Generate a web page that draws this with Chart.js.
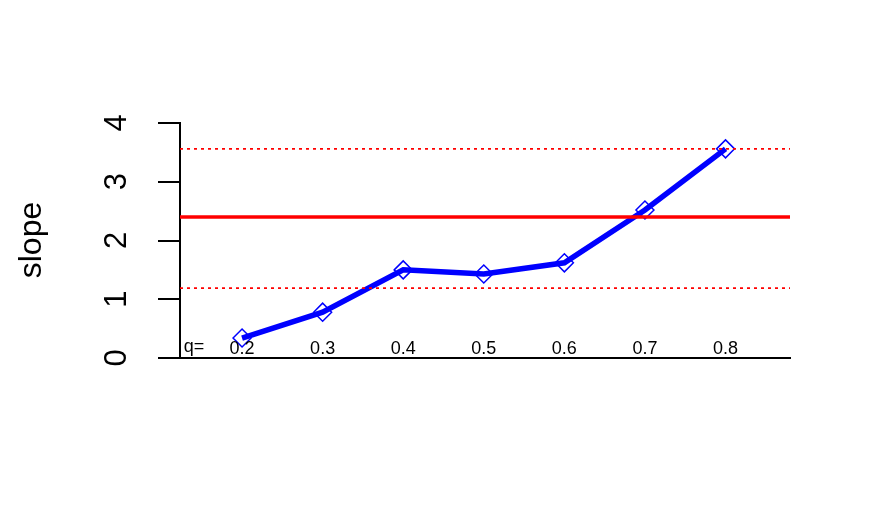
<!DOCTYPE html>
<html>
<head>
<meta charset="utf-8">
<script src="https://cdn.jsdelivr.net/npm/chart.js@4"></script>
<style>
  html, body { margin: 0; padding: 0; background: #fff; }
  #wrap { width: 881px; height: 509px; }
</style>
</head>
<body>
<div id="wrap"><canvas id="chart" width="881" height="509"></canvas></div>
<script>
// data
const quantiles = [0.2, 0.3, 0.4, 0.5, 0.6, 0.7, 0.8];
const slopes = [0.34, 0.78, 1.50, 1.43, 1.62, 2.52, 3.56];
const olsSlope = 2.40;
const ciLower = 1.19;
const ciUpper = 3.56;
const yTicks = [0, 1, 2, 3, 4];
const xLabels = ['0.2', '0.3', '0.4', '0.5', '0.6', '0.7', '0.8'];

// axis range
const XMIN = 0.123;
const XMAX = 0.88;

const FONT = '"Liberation Sans", Arial, Helvetica, sans-serif';

function hline(v) {
  return [{ x: XMIN, y: v }, { x: XMAX, y: v }];
}

// draws the rotated y labels, the inner q labels and the axis title
const labelsPlugin = {
  id: 'labels',
  afterDraw(chart) {
    const ctx = chart.ctx;
    const xs = chart.scales.x;
    const ys = chart.scales.y;
    ctx.save();
    ctx.fillStyle = '#000';

    ctx.font = '31px ' + FONT;
    ctx.textAlign = 'center';
    ctx.textBaseline = 'middle';
    yTicks.forEach(function (t) {
      ctx.save();
      ctx.translate(117, ys.getPixelForValue(t));
      ctx.rotate(-Math.PI / 2);
      ctx.fillText(String(t), 0, 0);
      ctx.restore();
    });

    ctx.font = '32px ' + FONT;
    ctx.save();
    ctx.translate(32, 240);
    ctx.rotate(-Math.PI / 2);
    ctx.fillText('slope', 0, 0);
    ctx.restore();

    ctx.font = '18px ' + FONT;
    xLabels.forEach(function (lab, i) {
      ctx.fillText(lab, xs.getPixelForValue(quantiles[i]), 349);
    });
    ctx.fillText('q=', 194, 347);
    ctx.restore();
  }
};

new Chart(document.getElementById('chart'), {
  type: 'line',
  data: {
    datasets: [
      {
        data: hline(olsSlope),
        borderColor: '#ff0000',
        borderWidth: 3.5,
        pointRadius: 0
      },
      {
        data: hline(ciUpper),
        borderColor: '#ff0000',
        borderWidth: 1.6,
        borderDash: [3, 4],
        pointRadius: 0
      },
      {
        data: hline(ciLower),
        borderColor: '#ff0000',
        borderWidth: 1.6,
        borderDash: [3, 4],
        pointRadius: 0
      },
      {
        data: quantiles.map((q, i) => ({ x: q, y: slopes[i] })),
        borderColor: '#0000ff',
        borderWidth: 5.5,
        pointStyle: 'rectRot',
        pointRadius: 9,
        pointBorderWidth: 1.5,
        pointBackgroundColor: 'rgba(0,0,0,0)',
        pointBorderColor: '#0000ff',
        tension: 0
      }
    ]
  },
  options: {
    responsive: false,
    animation: false,
    layout: { padding: { left: 158, right: 91, top: 123, bottom: 151 } },
    plugins: { legend: { display: false }, tooltip: { enabled: false } },
    scales: {
      x: {
        type: 'linear',
        min: XMIN,
        max: XMAX,
        grid: { display: false },
        ticks: { display: false },
        border: { display: true, color: '#000', width: 2 },
        afterFit(scale) { scale.height = 0; }
      },
      y: {
        min: 0,
        max: 4,
        afterBuildTicks(scale) { scale.ticks = yTicks.map(v => ({ value: v })); },
        grid: {
          drawOnChartArea: false,
          tickLength: 22,
          color: '#000',
          lineWidth: 2
        },
        ticks: { display: false },
        border: { display: true, color: '#000', width: 2 },
        afterFit(scale) { scale.width = 22; }
      }
    }
  },
  plugins: [labelsPlugin]
});
</script>
</body>
</html>
